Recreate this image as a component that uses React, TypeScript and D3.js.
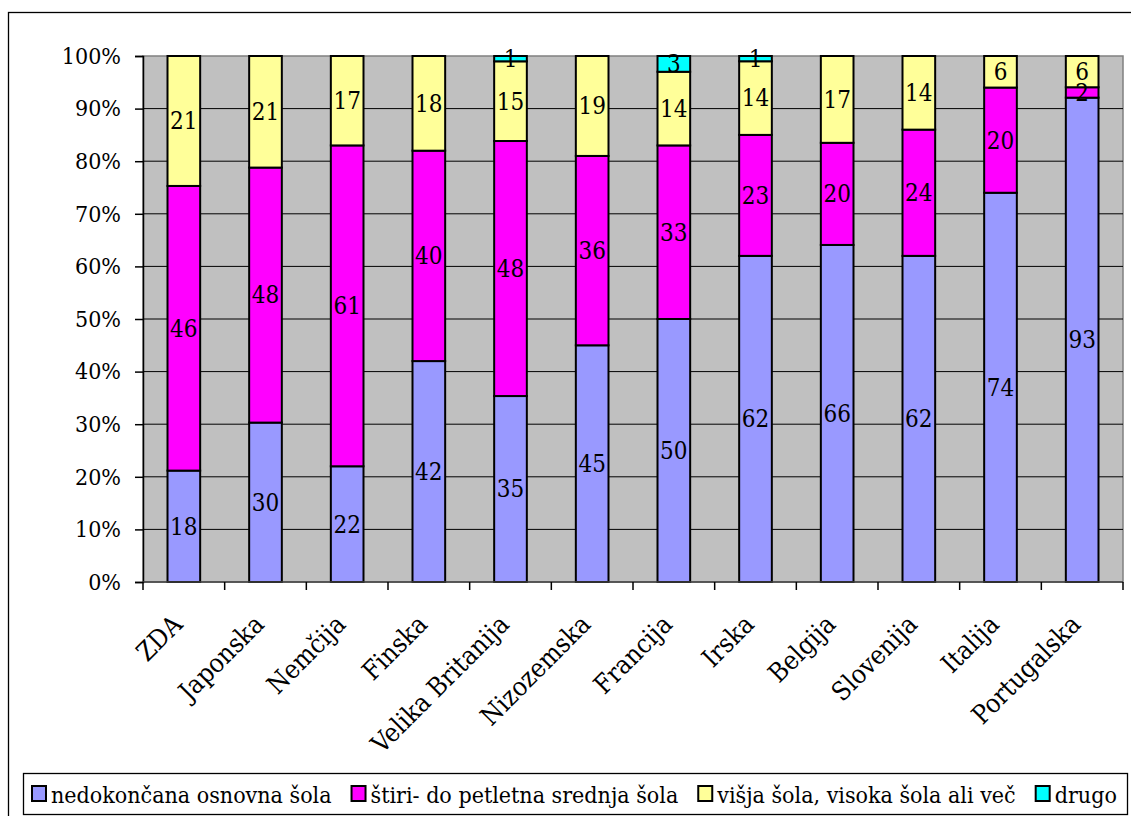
import React, { useEffect, useRef } from 'react';
import * as d3 from 'd3';

const categories = ['ZDA', 'Japonska', 'Nemčija', 'Finska', 'Velika Britanija', 'Nizozemska', 'Francija', 'Irska', 'Belgija', 'Slovenija', 'Italija', 'Portugalska'];
const osnovna = [18, 30, 22, 42, 35, 45, 50, 62, 66, 62, 74, 93];
const srednja = [46, 48, 61, 40, 48, 36, 33, 23, 20, 24, 20, 2];
const visja = [21, 21, 17, 18, 15, 19, 14, 14, 17, 14, 6, 6];
const drugo = [0, 0, 0, 0, 1, 0, 3, 1, 0, 0, 0, 0];

const seriesNames = ['nedokončana osnovna šola', 'štiri- do petletna srednja šola', 'višja šola, visoka šola ali več', 'drugo'];
const seriesValues = [osnovna, srednja, visja, drugo];
const colors = ['#9999FF', '#FF00FF', '#FFFF99', '#00FFFF'];
const yTicks = [0, 0.1, 0.2, 0.3, 0.4, 0.5, 0.6, 0.7, 0.8, 0.9, 1];

const FONT = "'DejaVu Serif Condensed', 'DejaVu Serif', serif";
const FS = '23px';

export default function App() {
  const svgRef = useRef<SVGSVGElement>(null);

  useEffect(() => {
    if (!svgRef.current) return;
    document.body.style.margin = '0';
    const svg = d3.select(svgRef.current);
    svg.selectAll('*').remove();

    const plot = { left: 143, right: 1123, top: 56, bottom: 582 };

    // outer frame
    svg.append('rect')
      .attr('x', 8.5).attr('y', 12.5)
      .attr('width', 1200).attr('height', 900)
      .attr('fill', 'white').attr('stroke', 'black').attr('stroke-width', 1.3);

    const x = d3.scaleBand()
      .domain(categories)
      .range([plot.left, plot.right])
      .paddingInner(0.6)
      .paddingOuter(0.3);
    const xOuter = d3.scaleBand().domain(categories).range([plot.left, plot.right]);

    const y = d3.scaleLinear().domain([0, 1]).range([plot.bottom, plot.top]);

    // plot background
    svg.append('rect')
      .attr('x', plot.left).attr('y', plot.top)
      .attr('width', plot.right - plot.left).attr('height', plot.bottom - plot.top)
      .attr('fill', '#C0C0C0').attr('stroke', '#808080').attr('stroke-width', 1.5);

    // grid lines
    svg.append('g')
      .selectAll('line')
      .data(yTicks.slice(1, -1))
      .enter().append('line')
      .attr('x1', plot.left).attr('x2', plot.right)
      .attr('y1', d => y(d)).attr('y2', d => y(d))
      .attr('stroke', 'black').attr('stroke-width', 1);

    // stacked, normalized rows
    const rows = categories.map((c, i) => {
      const vals = seriesValues.map(s => s[i]);
      const total = d3.sum(vals);
      let acc = 0;
      return vals.map((v, k) => {
        const y0 = acc / total;
        acc += v;
        return { cat: c, k, v, y0, y1: acc / total };
      });
    });

    const segs = rows.flat().filter(d => d.v > 0);

    svg.append('g')
      .selectAll('rect')
      .data(segs)
      .enter().append('rect')
      .attr('x', d => x(d.cat)!)
      .attr('y', d => y(d.y1))
      .attr('width', x.bandwidth())
      .attr('height', d => y(d.y0) - y(d.y1))
      .attr('fill', d => colors[d.k])
      .attr('stroke', 'black')
      .attr('stroke-width', 2);

    svg.append('g')
      .selectAll('text')
      .data(segs)
      .enter().append('text')
      .attr('x', d => x(d.cat)! + x.bandwidth() / 2)
      .attr('y', d => y((d.y0 + d.y1) / 2))
      .attr('dy', '0.35em')
      .attr('text-anchor', 'middle')
      .style('font-family', FONT)
      .style('font-size', '24px')
      .text(d => d.v);

    // y axis
    const yAxis = svg.append('g')
      .attr('transform', `translate(${plot.left},0)`)
      .call(d3.axisLeft(y).tickValues(yTicks).tickSize(8).tickPadding(14).tickFormat(d3.format('.0%')));
    yAxis.attr('font-family', null).attr('font-size', null);
    yAxis.select('.domain').attr('stroke', 'black').attr('stroke-width', 1.5);
    yAxis.selectAll('.tick line').attr('stroke', 'black').attr('stroke-width', 1.5);
    yAxis.selectAll('.tick text')
      .style('font-family', FONT).style('font-size', FS).attr('fill', 'black');

    // x axis
    const xAxis = svg.append('g')
      .attr('transform', `translate(0,${plot.bottom})`);
    xAxis.append('line')
      .attr('x1', plot.left).attr('x2', plot.right)
      .attr('stroke', '#404040').attr('stroke-width', 1.5);
    xAxis.selectAll('line.tk')
      .data([...categories.map(c => xOuter(c)!), plot.right])
      .enter().append('line')
      .attr('class', 'tk')
      .attr('x1', d => d).attr('x2', d => d)
      .attr('y1', 0).attr('y2', 8)
      .attr('stroke', 'black').attr('stroke-width', 1.5);
    xAxis.selectAll('text')
      .data(categories)
      .enter().append('text')
      .attr('transform', d => `translate(${x(d)! + x.bandwidth() / 2},${44}) rotate(-45)`)
      .attr('text-anchor', 'end')
      .style('font-family', FONT)
      .style('font-size', '26px')
      .text(d => d);

    // legend
    const lg = svg.append('g');
    lg.append('rect')
      .attr('x', 23.5).attr('y', 773.5)
      .attr('width', 1104).attr('height', 41)
      .attr('fill', 'white').attr('stroke', 'black').attr('stroke-width', 1.3);
    let cx = 32;
    seriesNames.forEach((name, k) => {
      lg.append('rect')
        .attr('x', cx).attr('y', 786)
        .attr('width', 14).attr('height', 15)
        .attr('fill', colors[k]).attr('stroke', 'black').attr('stroke-width', 2);
      const t = lg.append('text')
        .attr('x', cx + 19).attr('y', 803)
        .style('font-family', FONT).style('font-size', FS)
        .text(name);
      const w = (t.node() as SVGTextElement).getComputedTextLength();
      cx += 19 + w + 20;
    });
  }, []);

  return <svg ref={svgRef} width={1131} height={816} style={{ display: 'block', background: 'white' }} />;
}
